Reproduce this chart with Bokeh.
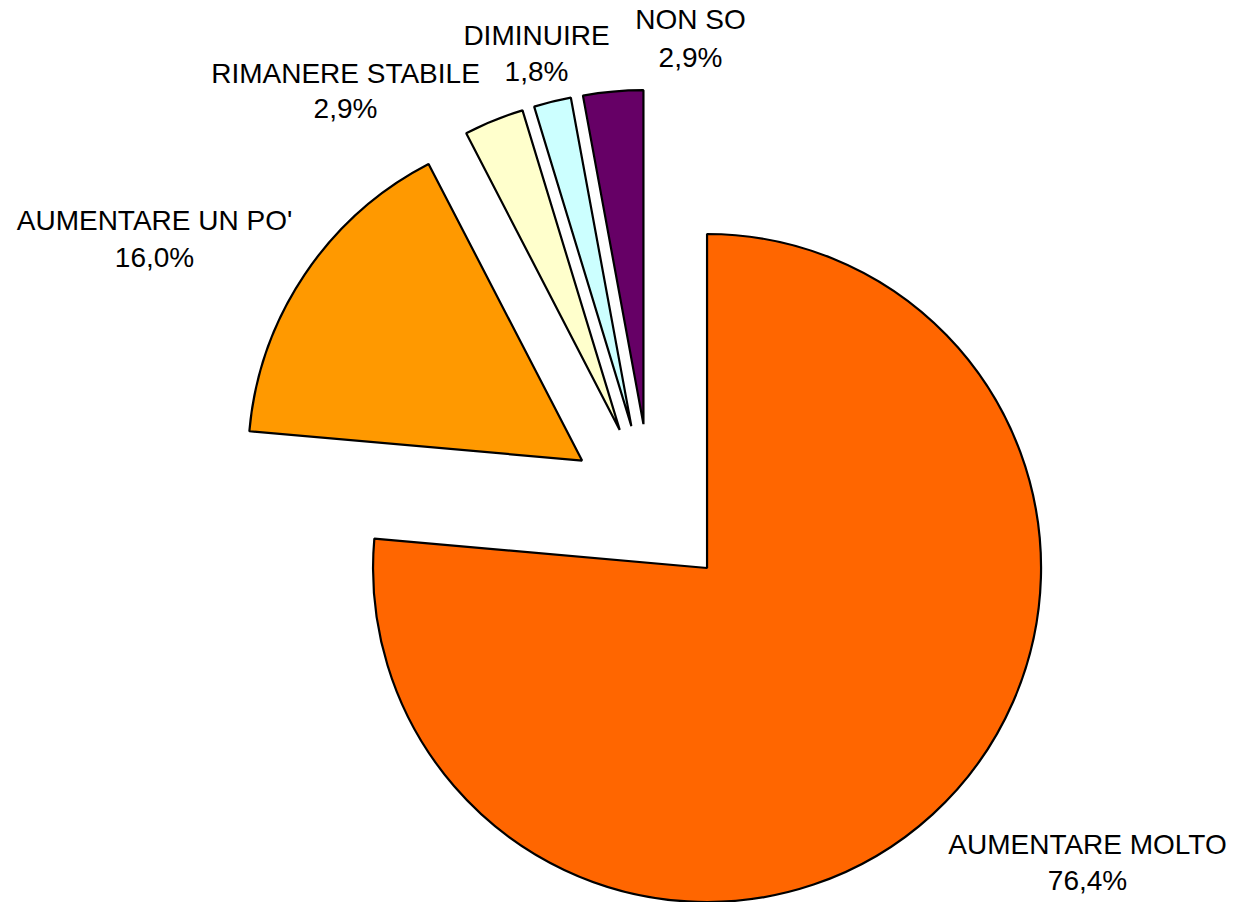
import math
from bokeh.plotting import figure
from bokeh.models import Range1d, ColumnDataSource
from bokeh.core.properties import value
from bokeh.embed import file_html
from bokeh.resources import INLINE

# ---- data ----
labels = ["AUMENTARE MOLTO", "AUMENTARE UN PO'", "RIMANERE STABILE", "DIMINUIRE", "NON SO"]
values = [76.4, 16.0, 2.9, 1.8, 2.9]
colors = ["#FF6600", "#FF9900", "#FFFFCC", "#CCFFFF", "#660066"]

# ---- layout (page pixel coordinates, y down) ----
W, H = 1233, 902
PAGE_H = 902
CX, CY = 650.5, 506.3      # pie centre
EXPLODE = 83               # explode distance
R = 334                    # radius
# label anchors: (centre x, baseline line 1, baseline line 2)
label_pos = [(1087, 844, 880), (154, 220, 257), (345, 73, 108), (536, 35, 71), (690, 19, 57)]

total = sum(values)
xs, ys, starts, ends = [], [], [], []
acc = 0.0
for v in values:
    t1 = acc / total * 360.0
    acc += v
    t2 = acc / total * 360.0
    mid = math.radians((t1 + t2) / 2)
    # clockwise from top; data y is up
    xs.append(CX + EXPLODE * math.sin(mid))
    ys.append((PAGE_H - CY) + EXPLODE * math.cos(mid))
    starts.append(math.radians(90 - t2))
    ends.append(math.radians(90 - t1))

src = ColumnDataSource(dict(x=xs, y=ys, start=starts, end=ends, color=colors))

p = figure(width=W, height=H, output_backend="svg", toolbar_location=None,
           x_range=Range1d(0, W), y_range=Range1d(PAGE_H - H, PAGE_H),
           x_axis_location=None, y_axis_location=None, min_border=0)
p.outline_line_color = None
p.xgrid.visible = False
p.ygrid.visible = False
p.background_fill_color = "white"

p.wedge(x="x", y="y", radius=R, start_angle="start", end_angle="end",
        fill_color="color", line_color="black", line_width=2.2, source=src)

pct = [f"{v:.1f}".replace(".", ",") + "%" for v in values]
tx, ty1, ty2 = [], [], []
for (lx, b1, b2) in label_pos:
    tx.append(lx)
    ty1.append(PAGE_H - b1)
    ty2.append(PAGE_H - b2)

p.text(x=tx, y=ty1, text=labels, text_align="center", text_baseline="alphabetic",
       text_font=value("Liberation Sans"), text_font_size="28px", text_color="black")
p.text(x=tx, y=ty2, text=pct, text_align="center", text_baseline="alphabetic",
       text_font=value("Liberation Sans"), text_font_size="28px", text_color="black")

with open("out.html", "w") as f:
    f.write(file_html(p, INLINE))
